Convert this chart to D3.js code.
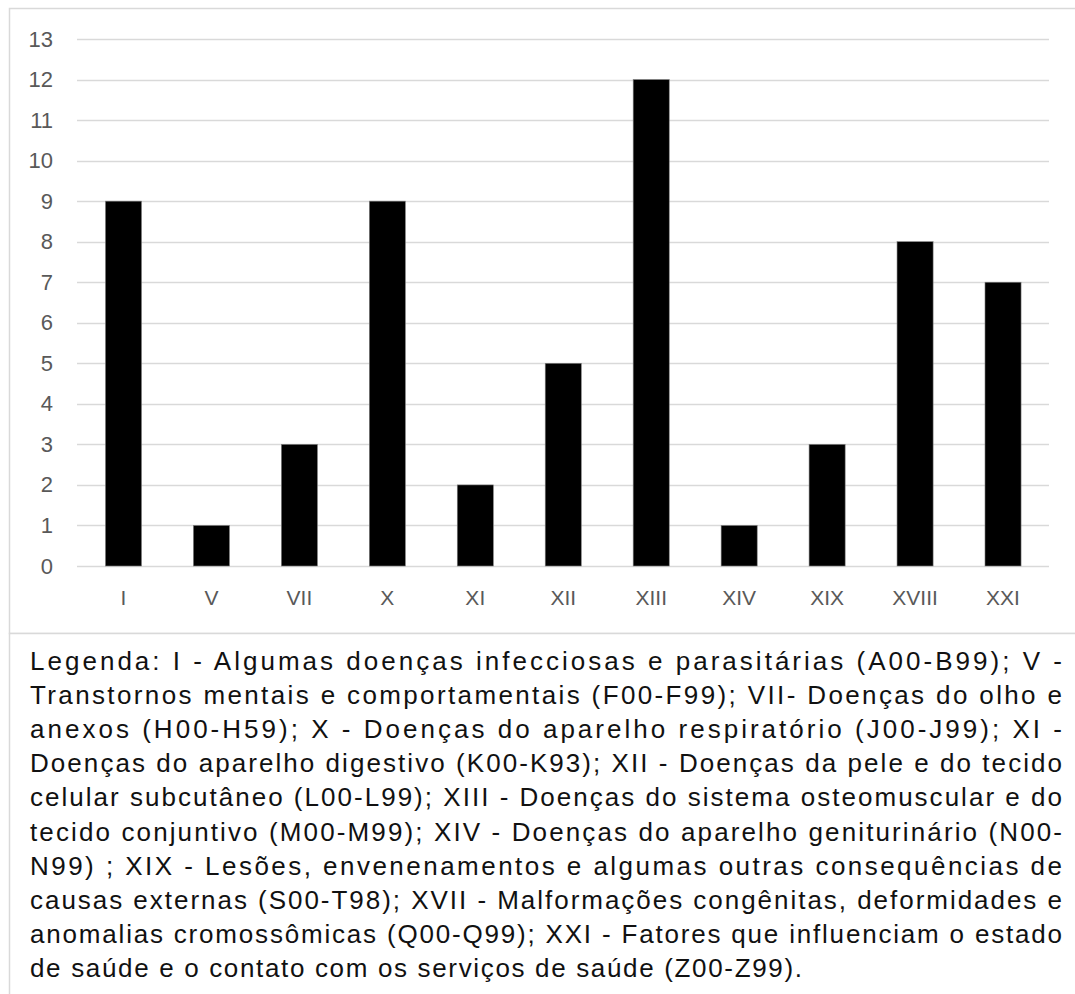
<!DOCTYPE html>
<html>
<head>
<meta charset="utf-8">
<script src="https://cdn.jsdelivr.net/npm/d3@7"></script>
<style>
  html, body { margin: 0; padding: 0; background: #fff; }
  svg { display: block; }
</style>
</head>
<body>
<svg id="chart" width="1075" height="994"></svg>
<script>
const categories = ["I", "V", "VII", "X", "XI", "XII", "XIII", "XIV", "XIX", "XVIII", "XXI"];
const values = [9, 1, 3, 9, 2, 5, 12, 1, 3, 8, 7];
const yTicks = [0, 1, 2, 3, 4, 5, 6, 7, 8, 9, 10, 11, 12, 13];
const legendLines = [
  "Legenda: I - Algumas doenças infecciosas e parasitárias (A00-B99); V -",
  "Transtornos mentais e comportamentais (F00-F99); VII- Doenças do olho e",
  "anexos (H00-H59); X - Doenças do aparelho respiratório (J00-J99); XI -",
  "Doenças do aparelho digestivo (K00-K93); XII - Doenças da pele e do tecido",
  "celular subcutâneo (L00-L99); XIII - Doenças do sistema osteomuscular e do",
  "tecido conjuntivo (M00-M99); XIV - Doenças do aparelho geniturinário (N00-",
  "N99) ; XIX - Lesões, envenenamentos e algumas outras consequências de",
  "causas externas (S00-T98); XVII - Malformações congênitas, deformidades e",
  "anomalias cromossômicas (Q00-Q99); XXI - Fatores que influenciam o estado",
  "de saúde e o contato com os serviços de saúde (Z00-Z99)."
];

const svg = d3.select("#chart");
const font = "'Liberation Sans', Arial, sans-serif";

// outer boxes
svg.append("rect").attr("x", 9.5).attr("y", 8.5).attr("width", 1080).attr("height", 625)
  .attr("fill", "#fff").attr("stroke", "#d9d9d9").attr("stroke-width", 1.5);
svg.append("rect").attr("x", 9.5).attr("y", 633.5).attr("width", 1080).attr("height", 400)
  .attr("fill", "#fff").attr("stroke", "#d9d9d9").attr("stroke-width", 1.5);

const x = d3.scaleBand().domain(categories).range([79.5, 1047]).paddingInner(0.59).paddingOuter(0.295);
const y = d3.scaleLinear().domain([0, 13]).range([566, 39]);

// gridlines
svg.append("g").selectAll("line").data(yTicks).join("line")
  .attr("x1", 77).attr("x2", 1049)
  .attr("y1", d => Math.round(y(d)) + 0.5).attr("y2", d => Math.round(y(d)) + 0.5)
  .attr("stroke", "#d9d9d9").attr("stroke-width", 1.5);

// y axis
const yAxis = d3.axisLeft(y).tickValues(yTicks).tickSize(0).tickPadding(0);
const gy = svg.append("g").attr("transform", "translate(53,0)").call(yAxis);
gy.select(".domain").remove();
gy.selectAll("text").attr("font-family", font).attr("font-size", 22).attr("fill", "#595959");

// bars
svg.append("g").selectAll("rect").data(values).join("rect")
  .attr("x", (d, i) => x(categories[i]))
  .attr("width", x.bandwidth())
  .attr("y", d => y(d))
  .attr("height", d => y(0) - y(d))
  .attr("fill", "#000").attr("stroke", "#7f7f7f").attr("stroke-width", 0.6);

// x axis
const xAxis = d3.axisBottom(x).tickSize(0).tickPadding(0);
const gx = svg.append("g").attr("transform", "translate(0,590)").call(xAxis);
gx.select(".domain").remove();
gx.selectAll("text").attr("font-family", font).attr("font-size", 21).attr("fill", "#595959").attr("dy", "0.71em").attr("y", 0);

// legend
const lineY = d3.scaleLinear().domain([0, 9]).range([670, 977]);
const lg = svg.append("g");
legendLines.forEach((t, i) => {
  const txt = lg.append("text")
    .attr("x", 30).attr("y", lineY(i))
    .attr("font-family", font).attr("font-size", 26).attr("fill", "#111")
    .text(t);
  txt.attr("textLength", i < legendLines.length - 1 ? 1032 : 772).attr("lengthAdjust", "spacing");
});
</script>
</body>
</html>
